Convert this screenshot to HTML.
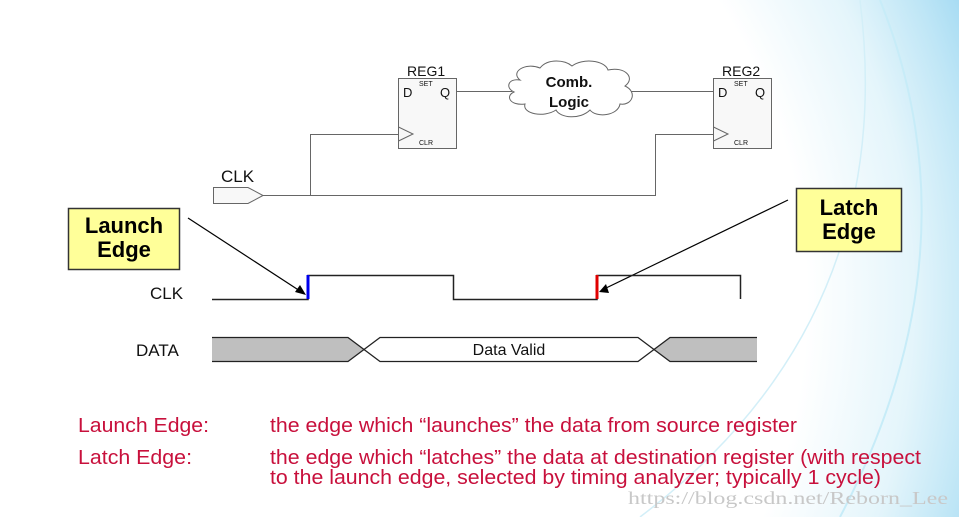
<!DOCTYPE html>
<html><head><meta charset="utf-8"><style>
html,body{margin:0;padding:0;width:959px;height:517px;overflow:hidden;background:#fff}
svg{display:block}
text{font-family:"Liberation Sans",Arial,sans-serif}
</style></head><body>
<svg width="959" height="517" viewBox="0 0 959 517" xmlns="http://www.w3.org/2000/svg">
<defs>
<radialGradient id="bg" cx="260" cy="300" r="760" gradientUnits="userSpaceOnUse">
<stop offset="0.72" stop-color="#ffffff"/>
<stop offset="0.86" stop-color="#e4f5fb"/>
<stop offset="0.95" stop-color="#bfe6f6"/>
<stop offset="1" stop-color="#a8dcf3"/>
</radialGradient>
</defs>
<rect width="959" height="517" fill="url(#bg)"/>
<path d="M880 0 Q980 250 840 517" stroke="#c7ecf8" stroke-width="2" fill="none"/>
<path d="M640 517 Q900 320 860 0" stroke="#d3eff8" stroke-width="1.5" fill="none"/>

<g stroke="#666" stroke-width="1" fill="none">
<rect x="398.5" y="78.5" width="58" height="70" fill="#f8f8f8"/>
<rect x="713.5" y="78.5" width="58" height="70" fill="#f8f8f8"/>
<path d="M398.5 127 L413 134 L398.5 141"/>
<path d="M713.5 127 L728 134 L713.5 141"/>
<path d="M457 91.5 H512"/>
<path d="M631 91.5 H713"/>
<path d="M263 195.5 H655.5 V134.5 H713"/>
<path d="M310.5 195.5 V134.5 H398"/>
<path d="M213.5 187.5 H248 L263 195.5 L248 203.5 H213.5 Z" fill="#f8f8f8"/>
<path d="M520 80 C510 72 525 62 540 68 C548 58 565 60 572 66 C582 58 605 60 608 70 C625 66 636 78 625 86 C638 92 632 106 620 104 C618 116 596 118 590 110 C580 120 560 118 556 110 C544 118 522 114 525 104 C510 106 505 96 514 92 C505 88 508 78 520 80 Z" fill="#fff"/>
</g>
<g fill="#111">
<text x="407" y="76" font-size="14">REG1</text>
<text x="722" y="76" font-size="14">REG2</text>
<text x="403" y="97" font-size="13">D</text>
<text x="440" y="97" font-size="13">Q</text>
<text x="718" y="97" font-size="13">D</text>
<text x="755" y="97" font-size="13">Q</text>
<text x="419" y="86" font-size="7">SET</text>
<text x="734" y="86" font-size="7">SET</text>
<text x="419" y="145" font-size="7">CLR</text>
<text x="734" y="145" font-size="7">CLR</text>
<text x="569" y="87" font-size="15" font-weight="bold" text-anchor="middle">Comb.</text>
<text x="569" y="107" font-size="15" font-weight="bold" text-anchor="middle">Logic</text>
<text x="221" y="182" font-size="17">CLK</text>
</g>

<rect x="68.5" y="208.5" width="111" height="61" fill="#ffff99" stroke="#333" stroke-width="1.5"/>
<text x="124" y="233" font-size="22" font-weight="bold" text-anchor="middle" fill="#000">Launch</text>
<text x="124" y="257" font-size="22" font-weight="bold" text-anchor="middle" fill="#000">Edge</text>
<rect x="796.5" y="188.5" width="105" height="63" fill="#ffff99" stroke="#333" stroke-width="1.5"/>
<text x="849" y="215" font-size="22" font-weight="bold" text-anchor="middle" fill="#000">Latch</text>
<text x="849" y="239" font-size="22" font-weight="bold" text-anchor="middle" fill="#000">Edge</text>
<g stroke="#000" stroke-width="1.2">
<line x1="188" y1="218" x2="300" y2="291"/>
<line x1="788" y1="200" x2="604" y2="289"/>
</g>
<polygon points="306,295 295,292 300,285" fill="#000"/>
<polygon points="599,292 606,284 609,293" fill="#000"/>

<text x="150" y="299" font-size="17" fill="#111">CLK</text>
<text x="136" y="356" font-size="17" fill="#111">DATA</text>
<path d="M212 299.5 H308 V275.5 H453.5 V299.5 H597 V275.5 H740.5 V299" stroke="#222" stroke-width="1.5" fill="none"/>
<line x1="308" y1="275" x2="308" y2="299" stroke="#0000ee" stroke-width="3"/>
<line x1="597" y1="275" x2="597" y2="299" stroke="#e00000" stroke-width="3"/>
<polygon points="212,337.5 348,337.5 364,349 348,361.5 212,361.5" fill="#bfbfbf"/>
<polygon points="757,337.5 670,337.5 654,349 670,361.5 757,361.5" fill="#bfbfbf"/>
<g stroke="#222" stroke-width="1.3" fill="none">
<path d="M212 337.5 H348 L380 361.5 H638 L670 337.5 H757"/>
<path d="M212 361.5 H348 L380 337.5 H638 L670 361.5 H757"/>
</g>
<text x="509" y="355" font-size="16" text-anchor="middle" fill="#111">Data Valid</text>

<g fill="#c8103c" font-size="20">
<text x="78" y="432" textLength="131" lengthAdjust="spacingAndGlyphs">Launch Edge:</text>
<text x="270" y="432" textLength="527" lengthAdjust="spacingAndGlyphs">the edge which “launches” the data from source register</text>
<text x="78" y="464" textLength="114" lengthAdjust="spacingAndGlyphs">Latch Edge:</text>
<text x="270" y="464" textLength="651" lengthAdjust="spacingAndGlyphs">the edge which “latches” the data at destination register (with respect</text>
<text x="270" y="484" textLength="611" lengthAdjust="spacingAndGlyphs">to the launch edge, selected by timing analyzer; typically 1 cycle)</text>
</g>
<text x="628" y="504" font-size="18" fill="#c8c8c8" style="font-family:'Liberation Serif',serif" textLength="320" lengthAdjust="spacingAndGlyphs">https://blog.csdn.net/Reborn_Lee</text>
</svg>
</body></html>
